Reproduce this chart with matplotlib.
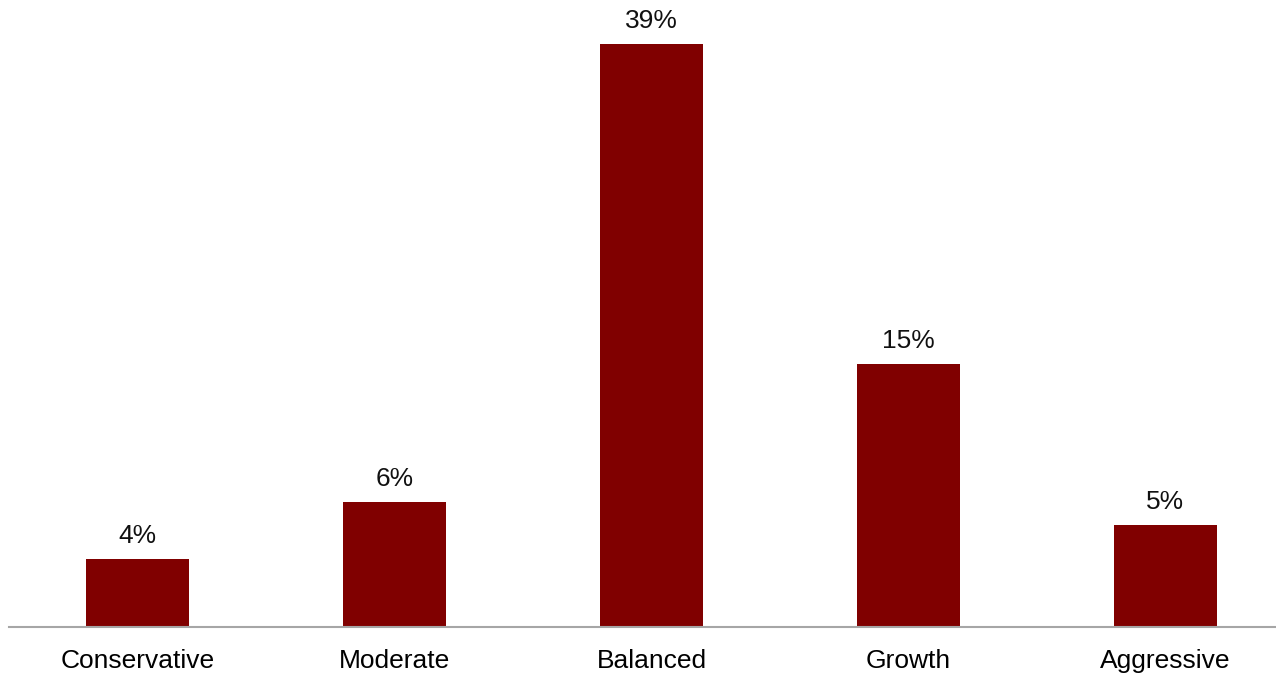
import matplotlib

matplotlib.use("Agg")
import matplotlib.pyplot as plt

# Risk profiles and bar heights (labels as printed).
categories = ["Conservative", "Moderate", "Balanced", "Growth", "Aggressive"]
heights = [4.55, 8.36, 39.0, 17.6, 6.82]
value_labels = ["4%", "6%", "39%", "15%", "5%"]

plt.rcParams["font.family"] = ["Liberation Sans", "DejaVu Sans"]

fig = plt.figure(figsize=(12.76, 6.74), dpi=100)
ax = fig.add_axes([9 / 1276, 47 / 674, 1 - 9 / 1276, 627 / 674])

x = list(range(len(categories)))
bars = ax.bar(x, heights, width=0.4, color="#800000")

for bar, lab in zip(bars, value_labels):
    ax.annotate(
        lab,
        (bar.get_x() + bar.get_width() / 2, bar.get_height()),
        xytext=(0, 8),
        textcoords="offset points",
        ha="center",
        va="bottom",
        fontsize=19,
        color="#111111",
    )

ax.set_xlim(-0.5, 4.43)
ax.set_ylim(0, 41.94)
ax.set_xticks(x)
ax.set_xticklabels(categories, fontsize=19)
ax.tick_params(axis="x", length=0, pad=16)
ax.set_yticks([])
for side in ("top", "right", "left"):
    ax.spines[side].set_visible(False)
ax.spines["bottom"].set_color("#a6a6a6")
ax.spines["bottom"].set_linewidth(1.5)

fig.savefig("out.png", dpi=100)
